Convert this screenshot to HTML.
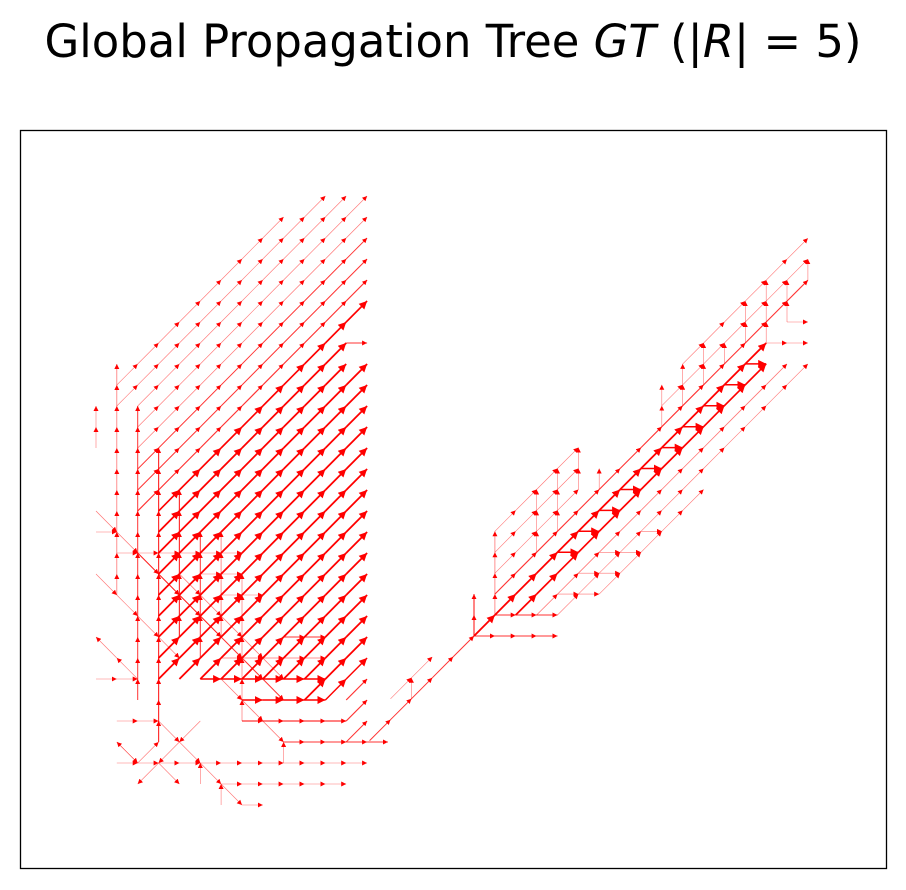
<!DOCTYPE html>
<html><head><meta charset="utf-8"><style>
html,body{margin:0;padding:0;background:#fff;}
svg{display:block;}
</style></head><body>
<svg id="chart" width="906" height="890" viewBox="0 0 906 890" xmlns="http://www.w3.org/2000/svg">
<defs>
<marker id="arr" viewBox="0 0 10 10" refX="10" refY="5" markerWidth="5" markerHeight="5" markerUnits="userSpaceOnUse" orient="auto"><path d="M0,0 L10,5 L0,10 z" fill="red"/></marker>
<marker id="arrB" viewBox="0 0 10 10" refX="10" refY="5" markerWidth="8" markerHeight="8" markerUnits="userSpaceOnUse" orient="auto"><path d="M0,0 L10,5 L0,10 z" fill="red"/></marker>
</defs>
<text x="453" y="57" text-anchor="middle" font-family="DejaVu Sans, sans-serif" font-size="45" textLength="817" lengthAdjust="spacingAndGlyphs">Global Propagation Tree <tspan font-style="italic">GT</tspan> (|<tspan font-style="italic">R</tspan>| =  5)</text>
<rect x="20.5" y="130.5" width="866" height="738" fill="none" stroke="#000" stroke-width="1.3"/>
<g id="edges"></g>
</svg>
<script>
// Left cluster diagonals (up-right), invariant k = col + row
const leftK     = [10,11,12,13,14,15,16,17,18,19,20,21,22,23,24,25,26,27,28,29,30,31,32,33,34,35,36,37,38];
const leftStart = [ 1, 1, 2, 2, 2, 2, 2, 2, 3, 3, 3, 3, 3, 3, 3, 3, 3, 4, 5, 6, 7, 8, 9,10,10,11,12,12,12];
const leftEnd   = [ 9,11,12,13,13,13,13,13,13,12,12,13,13,13,13,13,13,13,13,13,13,13,13,13,13,13,13,13,13];
const leftW     = [.6,.6,.6,.6,.7,.9,1,1.2,1.6,1.8,1.8,1.8,1.8,1.8,1.8,1.8,1.8,1.8,1.8,1.8,1.8,1.8,1.8,1.8,1.8,1.4,1.2,1.2,1];
// Left horizontals [row, c1, c2, width]
const leftH = [[7,12,13,1],[16,0,1,.6],[17,1,7,.6],[18,5,7,.6],[19,6,8,.6],[21,9,11,1],[22,6,11,.8],[23,0,2,.6],[23,5,11,1.5],[24,7,11,1.5],[25,1,3,.6],[25,7,12,1.2],[26,9,14,.9],[27,1,13,.6],[28,6,12,.6],[29,7,8,.6]];
// Left verticals [col, r1, r2, width] (drawn upward)
const leftV = [[0,10,12,.6],[1,8,19,.8],[2,10,24,1],[3,12,26,1.2],[4,14,21,1.2],[5,16,22,1],[6,16,21,.8],[7,18,25,.7],[9,26,27,.6],[5,27,28,.6],[6,28,29,.6]];
// Left down-right / up-left diagonals [c1,r1,c2,r2,width]
const leftD = [[0,15,6,21,.7],[0,18,4,22,.6],[2,17,9,24,1],[3,25,7,29,.6],[4,18,9,23,.8],[6,23,9,26,.8],[2,23,0,21,.6],[2,27,1,26,.6],[2,27,3,26,.6],[3,27,2,28,.6],[3,27,4,28,.6],[1,26,2,27,.6],[5,25,3,27,.6]];
// Right cluster diagonals, invariant j = a + b : [j, a1, a2, width]
const rightDiag = [[19,-5,0,1],[19,0,14,1.8],[20,2,14,1.7],[18,1,16,1.1],[21,3,15,.8],[22,4,16,.6],[23,6,11,.6],[17,9,16,.6],[17,1,5,.6],[16,1,5,.6],[16,10,16,.6],[15,1,5,.6],[18,-4,-2,.6]];
// Right horizontals [b, a1, a2, width]
const rightH = [[15,4,5,1.5],[14,5,6,1.5],[13,6,7,1.5],[12,7,8,1.5],[11,8,9,1.5],[10,9,10,1.5],[9,10,11,1.5],[8,11,12,1.5],[7,12,13,1.5],[6,13,14,1.5],[19,0,4,1],[18,1,4,1],[17,4,6,.6],[5,14,16,.6],[4,15,16,.6],[14,8,9,.6],[15,6,8,.6],[16,5,7,.6]];
// Right verticals [a, b1, b2, width]
const rightV = [[1,14,18,.8],[0,17,19,1.2],[3,12,15,.6],[4,11,14,.6],[5,10,12,.6],[6,11,12,.6],[9,7,9,.6],[10,6,8,.6],[11,5,7,.6],[12,5,6,.6],[13,3,5,.6],[14,2,5,.6],[15,2,4,.6],[16,1,2,.6],[-3,21,22,.6]];

const lx = c => 96 + 20.85 * c, ly = r => 196 + 21 * r;
const rx = a => 474 + 20.87 * a, ry = b => 238.3 + 20.93 * b;
const g = document.getElementById('edges');
const NS = 'http://www.w3.org/2000/svg';
function step(x1, y1, x2, y2, w) {
  const l = document.createElementNS(NS, 'line');
  
  
  l.setAttribute('x1', x1.toFixed(1)); l.setAttribute('y1', y1.toFixed(1));
  l.setAttribute('x2', x2.toFixed(1)); l.setAttribute('y2', y2.toFixed(1));
  l.setAttribute('stroke', 'red');
  l.setAttribute('stroke-width', w);
  l.setAttribute('stroke-opacity', w < 0.9 ? 0.55 : (w < 1.4 ? 0.8 : 1));
  l.setAttribute('marker-end', w >= 1.4 ? 'url(#arrB)' : 'url(#arr)');
  g.appendChild(l);
}
function edge(fx, fy, c1, r1, c2, r2, w) {
  const n = Math.max(Math.abs(c2 - c1), Math.abs(r2 - r1));
  for (let i = 0; i < n; i++) {
    const ca = c1 + (c2 - c1) * i / n, ra = r1 + (r2 - r1) * i / n;
    const cb = c1 + (c2 - c1) * (i + 1) / n, rb = r1 + (r2 - r1) * (i + 1) / n;
    step(fx[0](ca), fx[1](ra), fx[0](cb), fx[1](rb), w);
  }
}
const L = [lx, ly], R = [rx, ry];
leftK.forEach((k, i) => { if (leftEnd[i] > leftStart[i]) edge(L, 0, leftStart[i], k - leftStart[i], leftEnd[i], k - leftEnd[i], leftW[i]); });
leftH.forEach(h => edge(L, 0, h[1], h[0], h[2], h[0], h[3]));
leftV.forEach(v => edge(L, 0, v[0], v[2], v[0], v[1], v[3]));
leftD.forEach(d => edge(L, 0, d[0], d[1], d[2], d[3], d[4]));
rightDiag.forEach(d => edge(R, 0, d[1], d[0] - d[1], d[2], d[0] - d[2], d[3]));
rightH.forEach(h => edge(R, 0, h[1], h[0], h[2], h[0], h[3]));
rightV.forEach(v => edge(R, 0, v[0], v[2], v[0], v[1], v[3]));
</script>
</body></html>
